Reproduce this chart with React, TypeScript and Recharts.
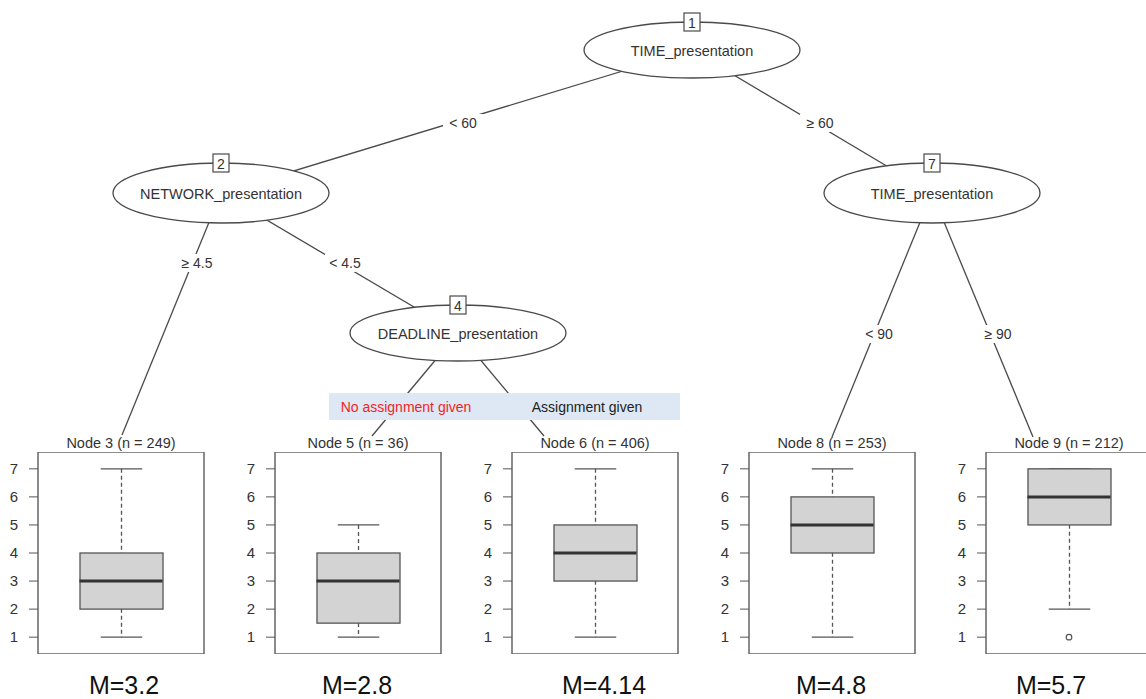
import React from "react";
import { ComposedChart, Bar, Scatter, XAxis, YAxis, ReferenceArea } from "recharts";

// terminal nodes (boxplots)
const nodeIds = [3, 5, 6, 8, 9];
const nodeSizes = [249, 36, 406, 253, 212];
const whiskerLow = [1, 1, 1, 1, 2];
const lowerQuartile = [2, 1.5, 3, 4, 5];
const medians = [3, 3, 4, 5, 6];
const upperQuartile = [4, 4, 5, 6, 7];
const whiskerHigh = [7, 5, 7, 7, 7];
const outliers = [null, null, null, null, 1];
const meanLabels = ["M=3.2", "M=2.8", "M=4.14", "M=4.8", "M=5.7"];
const yTicks = [1, 2, 3, 4, 5, 6, 7];

// inner nodes and splits
const splitIds = [1, 2, 4, 7];
const splitVariables = ["TIME_presentation", "NETWORK_presentation", "DEADLINE_presentation", "TIME_presentation"];
const edgeLabels = ["< 60", "≥ 60", "≥ 4.5", "< 4.5", "", "", "< 90", "≥ 90"];
const assignmentLabels = ["No assignment given", "Assignment given"];

// layout
const FONT = "'Liberation Sans', Arial, Helvetica, sans-serif";
const LINE = "#4a4a4a";
const TEXT = "#333";
const CHART_W = 206;
const CHART_H = 202;
const AXIS_W = 38;
const BOX_W = 83;
const PANEL_TOP = 452;
const panelLeft = [0, 237, 474, 711, 948];
const meanX = [124, 357, 604, 831, 1051];
const splitPos = [
  { cx: 692, cy: 50, rx: 108, ry: 28 },
  { cx: 221, cy: 193, rx: 108, ry: 30 },
  { cx: 458, cy: 333, rx: 108, ry: 28 },
  { cx: 932, cy: 193, rx: 108, ry: 30 },
];
const edgePos = [
  { x1: 692, y1: 50, x2: 221, y2: 193, lx: 463, ly: 123 },
  { x1: 692, y1: 50, x2: 932, y2: 193, lx: 820, ly: 123 },
  { x1: 221, y1: 193, x2: 122, y2: 435, lx: 197, ly: 263 },
  { x1: 221, y1: 193, x2: 458, y2: 333, lx: 345, ly: 263 },
  { x1: 458, y1: 333, x2: 372, y2: 436, lx: 0, ly: 0 },
  { x1: 458, y1: 333, x2: 544, y2: 436, lx: 0, ly: 0 },
  { x1: 932, y1: 193, x2: 832, y2: 437, lx: 879, ly: 334 },
  { x1: 932, y1: 193, x2: 1033, y2: 437, lx: 998, ly: 334 },
];

const WhiskerShape = (p: any) => {
  const { x, y, width, height } = p;
  const cx = x + width / 2;
  const cap = width / 4;
  return (
    <g stroke="#555" strokeWidth={1.3}>
      <line x1={cx} x2={cx} y1={y} y2={y + height} strokeDasharray="4 3" />
      <line x1={cx - cap} x2={cx + cap} y1={y} y2={y} />
      <line x1={cx - cap} x2={cx + cap} y1={y + height} y2={y + height} />
    </g>
  );
};

const BoxShape = (p: any) => {
  const { x, y, width, height } = p;
  return <rect x={x} y={y} width={width} height={height} fill="#d3d3d3" stroke="#555" strokeWidth={1.3} />;
};

const MedianShape = (p: any) => (
  <line x1={p.cx - BOX_W / 2} x2={p.cx + BOX_W / 2} y1={p.cy} y2={p.cy} stroke="#333" strokeWidth={3} />
);

const OutlierShape = (p: any) => <circle cx={p.cx} cy={p.cy} r={2.8} fill="none" stroke="#555" strokeWidth={1.2} />;

function NodePanel({ i }: { i: number }) {
  const row = {
    node: `Node ${nodeIds[i]}`,
    whisker: [whiskerLow[i], whiskerHigh[i]],
    box: [lowerQuartile[i], upperQuartile[i]],
    median: medians[i],
    outlier: outliers[i],
  };
  return (
    <div style={{ position: "absolute", left: panelLeft[i], top: PANEL_TOP }}>
      <ComposedChart width={CHART_W} height={CHART_H} data={[row]} margin={{ top: 0, right: 2, bottom: 0, left: 0 }}>
        <XAxis xAxisId="w" dataKey="node" type="category" hide />
        <XAxis xAxisId="b" dataKey="node" type="category" hide />
        <YAxis
          domain={[0.4, 7.6]}
          ticks={yTicks}
          width={AXIS_W}
          axisLine={false}
          tickSize={9}
          tickMargin={11}
          tickLine={{ stroke: "#555" }}
          tick={{ fill: TEXT, fontSize: 15, fontFamily: FONT }}
          interval={0}
        />
        <ReferenceArea xAxisId="b" y1={0.4} y2={7.6} fill="none" stroke="#666" strokeWidth={1.5} ifOverflow="visible" />
        <Bar xAxisId="w" dataKey="whisker" barSize={BOX_W} shape={WhiskerShape} isAnimationActive={false} />
        <Bar xAxisId="b" dataKey="box" barSize={BOX_W} shape={BoxShape} isAnimationActive={false} />
        <Scatter xAxisId="b" dataKey="median" shape={MedianShape} isAnimationActive={false} />
        {outliers[i] !== null && (
          <Scatter xAxisId="b" dataKey="outlier" shape={OutlierShape} isAnimationActive={false} />
        )}
      </ComposedChart>
    </div>
  );
}

function Tree() {
  return (
    <svg width={1146} height={699} style={{ position: "absolute", left: 0, top: 0 }} fontFamily={FONT}>
      {edgePos.map((e, k) => (
        <line key={`e${k}`} x1={e.x1} y1={e.y1} x2={e.x2} y2={e.y2} stroke={LINE} strokeWidth={1.3} />
      ))}
      {edgePos.map((e, k) =>
        edgeLabels[k] ? (
          <g key={`l${k}`}>
            <rect x={e.lx - 20} y={e.ly - 9} width={40} height={18} fill="#fff" />
            <text x={e.lx} y={e.ly} textAnchor="middle" dominantBaseline="central" fontSize={14} fill={TEXT}>
              {edgeLabels[k]}
            </text>
          </g>
        ) : null
      )}
      {splitPos.map((n, k) => (
        <g key={`n${k}`}>
          <ellipse cx={n.cx} cy={n.cy} rx={n.rx} ry={n.ry} fill="#fff" stroke={LINE} strokeWidth={1.3} />
          <text x={n.cx} y={n.cy + 1} textAnchor="middle" dominantBaseline="central" fontSize={14.5} fill={TEXT}>
            {splitVariables[k]}
          </text>
          <rect x={n.cx - 8} y={n.cy - n.ry - 9} width={16} height={18} fill="#fff" stroke={LINE} strokeWidth={1.2} />
          <text x={n.cx} y={n.cy - n.ry + 1} textAnchor="middle" dominantBaseline="central" fontSize={14} fill={TEXT}>
            {splitIds[k]}
          </text>
        </g>
      ))}
      <rect x={329} y={393} width={351} height={27} fill="#dde8f4" />
      <text x={406} y={407} textAnchor="middle" dominantBaseline="central" fontSize={14} fill="#f21e24">
        {assignmentLabels[0]}
      </text>
      <text x={587} y={407} textAnchor="middle" dominantBaseline="central" fontSize={14} fill="#222">
        {assignmentLabels[1]}
      </text>
      {nodeIds.map((id, i) => (
        <text
          key={`t${i}`}
          x={panelLeft[i] + AXIS_W + BOX_W}
          y={443}
          textAnchor="middle"
          dominantBaseline="central"
          fontSize={14.5}
          fill={TEXT}
        >
          {`Node ${id} (n = ${nodeSizes[i]})`}
        </text>
      ))}
      {meanLabels.map((m, i) => (
        <text key={`m${i}`} x={meanX[i]} y={694} textAnchor="middle" fontSize={25} fill="#111">
          {m}
        </text>
      ))}
    </svg>
  );
}

export default function App() {
  return (
    <div
      style={{
        position: "absolute",
        left: 0,
        top: 0,
        width: 1146,
        height: 699,
        overflow: "hidden",
        background: "#fff",
      }}
    >
      <Tree />
      {nodeIds.map((_, i) => (
        <NodePanel key={i} i={i} />
      ))}
    </div>
  );
}
